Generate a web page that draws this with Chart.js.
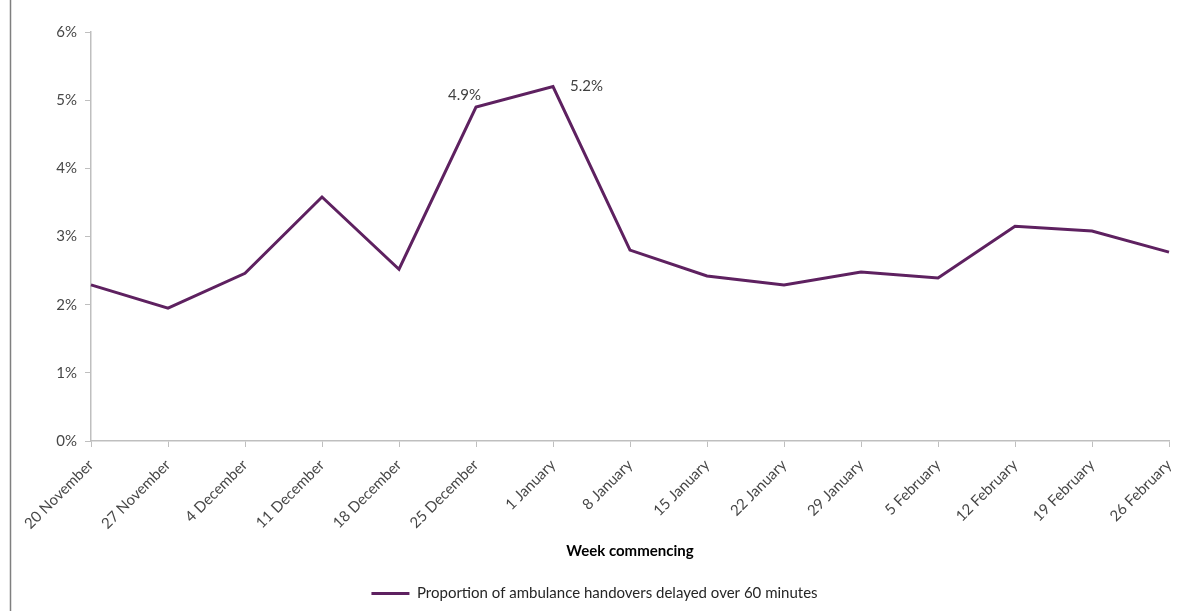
<!DOCTYPE html>
<html>
<head>
<meta charset="utf-8">
<script src="https://cdn.jsdelivr.net/npm/chart.js@4"></script>
<style>
  html, body { margin: 0; padding: 0; background: #fff; }
  #wrap { width: 1198px; height: 611px; position: relative; }
</style>
</head>
<body>
<div id="wrap"><canvas id="myChart"></canvas></div>
<script>
const weeks = ['20 November', '27 November', '4 December', '11 December', '18 December', '25 December',
    '1 January', '8 January', '15 January', '22 January', '29 January', '5 February',
    '12 February', '19 February', '26 February'];
const delayed60 = [2.29, 1.95, 2.46, 3.58, 2.52, 4.9, 5.2, 2.80, 2.42, 2.29, 2.48, 2.39, 3.15, 3.08, 2.77];
const yTicks = [0, 1, 2, 3, 4, 5, 6];
// only these two points get a value label, with side to put it on
const labelled = { 5: 'left', 6: 'right' };

const purple = '#5e2160';
const axisGrey = '#bfbfbf';
const textGrey = '#474747';
const fontFamily = 'Lato, "Open Sans", sans-serif';
const axisBottom = 441;   // pixel row of the x axis line

// thin frame line down the left edge
const leftRule = {
    id: 'leftRule',
    beforeDraw(chart) {
        const ctx = chart.ctx;
        ctx.save();
        ctx.strokeStyle = '#7f7f7f';
        ctx.lineWidth = 1.5;
        ctx.beginPath();
        ctx.moveTo(10.5, 0);
        ctx.lineTo(10.5, chart.height);
        ctx.stroke();
        ctx.restore();
    }
};

// value labels on the peak weeks
const pointLabels = {
    id: 'pointLabels',
    afterDatasetsDraw(chart) {
        const ctx = chart.ctx;
        const meta = chart.getDatasetMeta(0);
        ctx.save();
        ctx.font = '15px ' + fontFamily;
        ctx.fillStyle = '#404040';
        ctx.textBaseline = 'middle';
        for (const idx in labelled) {
            const pt = meta.data[idx];
            const txt = delayed60[idx].toFixed(1) + '%';
            if (labelled[idx] === 'left') {
                ctx.textAlign = 'right';
                ctx.fillText(txt, pt.x + 5, pt.y - 12);
            } else {
                ctx.textAlign = 'left';
                ctx.fillText(txt, pt.x + 17, pt.y);
            }
        }
        ctx.restore();
    }
};

const ctx = document.getElementById('myChart').getContext('2d');
window.myChart = new Chart(ctx, {
    type: 'line',
    data: {
        labels: weeks,
        datasets: [{
            label: 'Proportion of ambulance handovers delayed over 60 minutes',
            data: delayed60,
            borderColor: purple,
            backgroundColor: purple,
            borderWidth: 3,
            pointRadius: 0,
            tension: 0
        }]
    },
    options: {
        responsive: true,
        maintainAspectRatio: false,
        animation: false,
        layout: { padding: { top: 32, left: 20, right: 29, bottom: 0 } },
        plugins: {
            legend: {
                position: 'bottom',
                labels: {
                    usePointStyle: true,
                    pointStyle: 'line',
                    pointStyleWidth: 38,
                    color: '#262626',
                    font: { family: fontFamily, size: 15 },
                    padding: 0
                }
            },
            tooltip: { enabled: false }
        },
        scales: {
            x: {
                offset: false,
                afterFit(scale) {
                    const lg = scale.chart.legend;
                    scale.height = scale.chart.height - axisBottom - (lg ? lg.height : 0);
                },
                grid: {
                    display: true,
                    drawOnChartArea: false,
                    drawTicks: true,
                    tickLength: 6,
                    color: axisGrey
                },
                border: { color: axisGrey, width: 1.5 },
                ticks: {
                    minRotation: 45,
                    maxRotation: 45,
                    autoSkip: false,
                    color: textGrey,
                    font: { family: fontFamily, size: 15 },
                    padding: 9
                },
                title: {
                    display: true,
                    text: 'Week commencing',
                    color: '#000',
                    font: { family: fontFamily, size: 15, weight: 'bold' },
                    padding: { top: 6, bottom: 26 }
                }
            },
            y: {
                min: 0,
                max: 6,
                afterBuildTicks(scale) {
                    scale.ticks = yTicks.map(v => ({ value: v }));
                },
                afterFit(scale) {
                    scale.width = 71;
                },
                grid: {
                    display: true,
                    drawOnChartArea: false,
                    drawTicks: true,
                    tickLength: 6,
                    color: axisGrey
                },
                border: { color: axisGrey, width: 1.5 },
                ticks: {
                    color: textGrey,
                    font: { family: fontFamily, size: 15 },
                    padding: 8,
                    callback: v => v + '%'
                }
            }
        }
    },
    plugins: [leftRule, pointLabels]
});
</script>
</body>
</html>
